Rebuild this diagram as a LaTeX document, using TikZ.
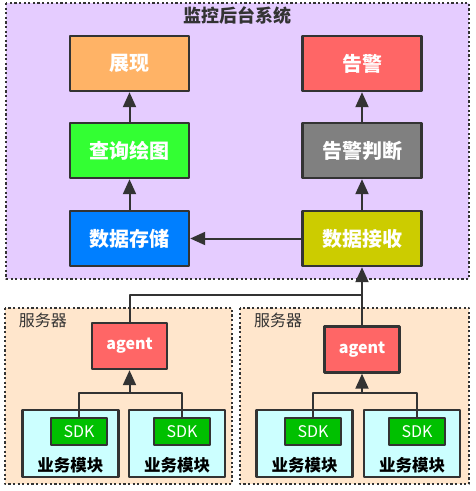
\documentclass[tikz,border=0pt]{standalone}
\usepackage{fontspec}
\setmainfont{Noto Sans CJK SC}
\usetikzlibrary{arrows.meta}
\definecolor{monbg}{HTML}{E5CCFF}
\definecolor{srvbg}{HTML}{FFE6CC}
\definecolor{modbg}{HTML}{CCFFFF}
\definecolor{edge}{HTML}{333333}
\definecolor{cshow}{HTML}{FFB366}
\definecolor{cquery}{HTML}{33FF33}
\definecolor{cstore}{HTML}{007FFF}
\definecolor{calarm}{HTML}{FF6666}
\definecolor{cjudge}{HTML}{808080}
\definecolor{crecv}{HTML}{CCCC00}
\definecolor{csdk}{HTML}{00C000}
\begin{document}
\begin{tikzpicture}[
    x=1pt, y=-1pt,
    line join=round,
    box/.style={draw=edge, line width=2.4pt, minimum width=119pt, minimum height=55pt,
        inner sep=0pt, text=white, font=\fontsize{20}{20}\selectfont\bfseries},
    agentbox/.style={draw=edge, line width=2.4pt, fill=calarm, minimum width=75pt,
        minimum height=46pt, inner sep=0pt, text=white, font=\fontsize{16}{16}\selectfont\bfseries},
    modbox/.style={draw=edge, line width=2.2pt, fill=modbg, minimum width=96pt,
        minimum height=67pt, inner sep=0pt},
    sdkbox/.style={draw=edge, line width=2.2pt, fill=csdk, minimum width=56pt,
        minimum height=27pt, inner sep=0pt, text=white, font=\fontsize{16}{16}\selectfont},
    group/.style={draw=edge, line width=2.2pt, dash pattern=on 2.2pt off 2.4pt},
    link/.style={draw=edge, line width=2pt},
    arr/.style={link, -{Triangle[length=15pt, width=13pt]}}
]
\useasboundingbox (0,0) rectangle (476,491);

\fill[white] (0,0) rectangle (476,491);
\path[group, fill=monbg] (6,3) rectangle (469,279);
\node[text=edge, font=\fontsize{18}{18}\selectfont\bfseries] (title) at (237,16) {监控后台系统};

\node[box, fill=cshow]  (show)  at (129.5,63.5)  {展现};
\node[box, fill=cquery] (query) at (129.5,150.5) {查询绘图};
\node[box, fill=cstore] (store) at (129.5,238.5) {数据存储};
\node[box, fill=calarm] (alarm) at (362,63.5)    {告警};
\node[box, fill=cjudge] (judge) at (362,150.5)   {告警判断};
\node[box, fill=crecv]  (recv)  at (362,238.5)   {数据接收};

\draw[arr] (query) -- (show);
\draw[arr] (store) -- (query);
\draw[arr] (judge) -- (alarm);
\draw[arr] (recv) -- (judge);
\draw[arr] (recv) -- (store);

\path[group, fill=srvbg] (5,308) rectangle (232,484);
\path[group, fill=srvbg] (240,308) rectangle (469,484);
\node[text=edge, font=\fontsize{16}{16}\selectfont] (srvA) at (43,320)  {服务器};
\node[text=edge, font=\fontsize{16}{16}\selectfont] (srvB) at (278,320) {服务器};

\node[agentbox] (agentA) at (129.5,346) {agent};
\node[agentbox] (agentB) at (362,349.5) {agent};

\node[modbox] (modA1) at (70.5,443.5) {};
\node[modbox] (modA2) at (177,443.5)  {};
\node[modbox] (modB1) at (304.5,443.5) {};
\node[modbox] (modB2) at (412,443.5)  {};

\foreach \m in {modA1,modA2,modB1,modB2}
    \node[above=1pt, font=\fontsize{16.5}{16.5}\selectfont\bfseries] at (\m.south) {业务模块};

\node[sdkbox] (sdkA1) at (79,431.5)  {SDK};
\node[sdkbox] (sdkA2) at (182,431.5) {SDK};
\node[sdkbox] (sdkB1) at (313,431.5) {SDK};
\node[sdkbox] (sdkB2) at (417,431.5) {SDK};

\coordinate (jA) at (129.5,393);
\coordinate (jB) at (362,393);
\coordinate (top) at (362,295);

\draw[link] (sdkA1.north) |- (jA) -| (sdkA2.north);
\draw[arr] (jA) -- (agentA.south);
\draw[link] (sdkB1.north) |- (jB) -| (sdkB2.north);
\draw[arr] (jB) -- (agentB.south);

\draw[link] (agentA.north) |- (top);
\draw[arr] (agentB.north) -- (recv.south);
\end{tikzpicture}
\end{document}
